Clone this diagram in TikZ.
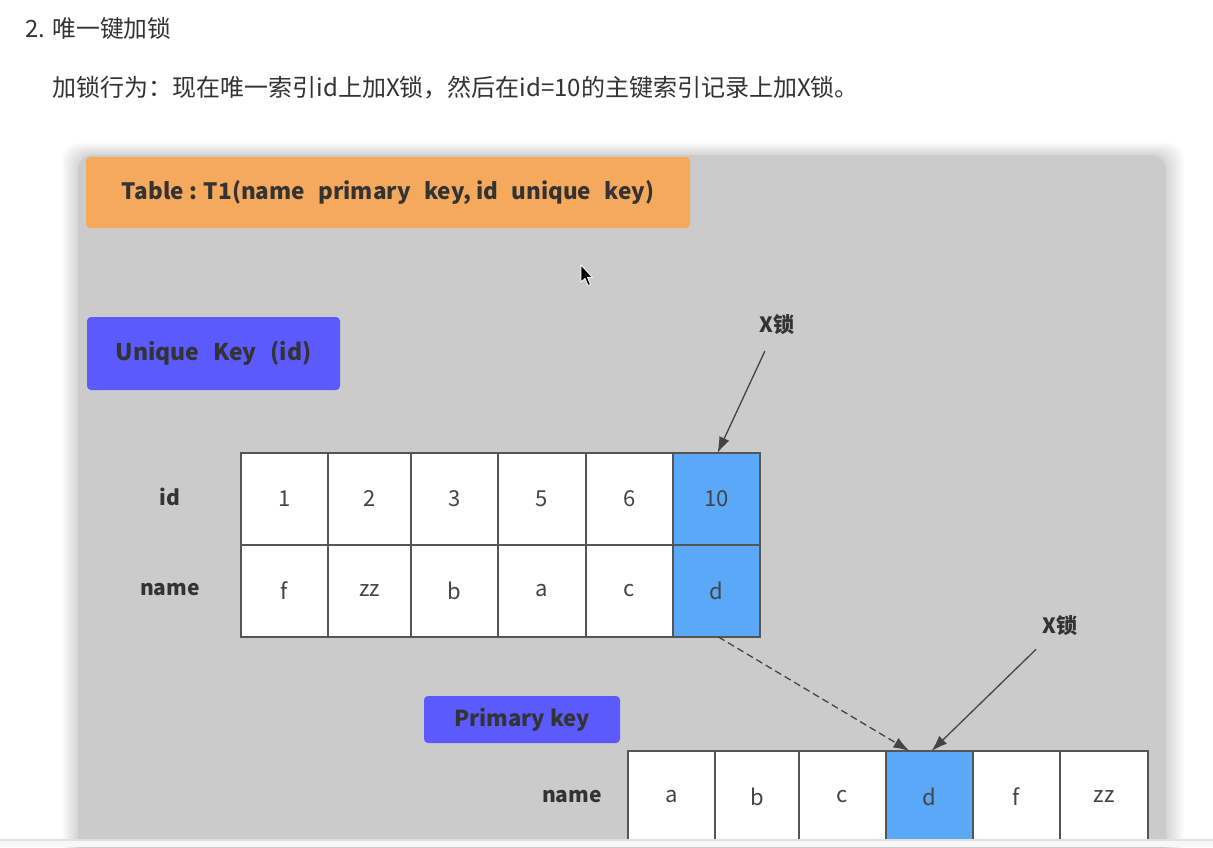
\documentclass[tikz,border=0pt]{standalone}
\usepackage{fontspec}
\setmainfont{Noto Sans CJK SC}
\usetikzlibrary{arrows.meta}
\definecolor{panel}{HTML}{CBCBCB}
\definecolor{orangebox}{HTML}{F5A95C}
\definecolor{violetbox}{HTML}{5A5AFF}
\definecolor{hl}{HTML}{5AA8F8}
\definecolor{txt}{HTML}{333333}
\definecolor{celltxt}{HTML}{444444}
\definecolor{edge}{HTML}{555555}
\definecolor{arrcol}{HTML}{444444}
\tikzset{
  cellbox/.style={draw=edge, line width=1.3pt, fill=white, inner sep=0pt, outer sep=0pt,
    minimum height=92pt, text=celltxt, font=\fontsize{22}{24}\selectfont},
  hlcell/.style={cellbox, fill=hl},
  rowlabel/.style={text=txt, font=\bfseries\fontsize{21}{24}\selectfont},
  tagbox/.style={rounded corners=4pt, inner sep=0pt, outer sep=0pt, text=txt},
  locklabel/.style={text=txt, font=\bfseries\fontsize{21}{24}\selectfont},
  arr/.style={draw=arrcol, line width=1.3pt, -{Latex[length=16pt,width=11pt]}},
}
\newcommand{\wsp}{\hspace{0.6em}}
\begin{document}
\begin{tikzpicture}[x=1pt,y=-1pt]
\useasboundingbox (0,0) rectangle (1213,847);
\fill[white] (0,0) rectangle (1213,847);
% header text
\node[anchor=west, text=txt, font=\fontsize{23.8}{26}\selectfont] (title) at (22,28) {2. 唯一键加锁};
\node[anchor=west, text=txt, font=\fontsize{24}{26}\selectfont] (desc) at (49,88) {加锁行为：现在唯一索引id上加X锁，然后在id=10的主键索引记录上加X锁。};
% panel shadow
\foreach \i in {1,...,10} {
  \fill[black, opacity=0.015, rounded corners=16pt] (78-1.6*\i,155-1.2*\i) rectangle (1166+1.8*\i,900);
}
\fill[panel, rounded corners=15pt] (78,155) rectangle (1166,900);
% tags
\node[tagbox, fill=orangebox, minimum width=604pt, minimum height=71pt,
  font=\bfseries\fontsize{22.5}{24}\selectfont] (tbl) at (388,192.5) {Table : T1(name\wsp primary\wsp key, id\wsp unique\wsp key)};
\node[tagbox, fill=violetbox, minimum width=253pt, minimum height=73pt,
  font=\bfseries\fontsize{23}{24}\selectfont] (uk) at (213.5,353.5) {Unique\wsp Key\wsp (id)};
\node[tagbox, fill=violetbox, minimum width=196pt, minimum height=47pt,
  font=\bfseries\fontsize{22}{24}\selectfont] (pk) at (522,719.5) {Primary key};
% table 1
\node[rowlabel] (lid) at (170,497) {id};
\node[rowlabel] (lname1) at (170,590) {name};
\node[cellbox, minimum width=87pt] (a1) at (284.5,499) {1};
\node[cellbox, minimum width=83pt] (a2) at (369.5,499) {2};
\node[cellbox, minimum width=87pt] (a3) at (454.5,499) {3};
\node[cellbox, minimum width=88pt] (a4) at (542,499) {5};
\node[cellbox, minimum width=87pt] (a5) at (629.5,499) {6};
\node[hlcell, minimum width=87pt] (a6) at (716.5,499) {10};
\node[cellbox, minimum width=87pt] (b1) at (284.5,591) {f};
\node[cellbox, minimum width=83pt] (b2) at (369.5,591) {zz};
\node[cellbox, minimum width=87pt] (b3) at (454.5,591) {b};
\node[cellbox, minimum width=88pt] (b4) at (542,591) {a};
\node[cellbox, minimum width=87pt] (b5) at (629.5,591) {c};
\node[hlcell, minimum width=87pt] (b6) at (716.5,591) {d};
% table 2
\node[rowlabel] (lname2) at (572,797) {name};
\node[cellbox, minimum width=87pt] (c1) at (671.5,797) {a};
\node[cellbox, minimum width=84pt] (c2) at (757,797) {b};
\node[cellbox, minimum width=87pt] (c3) at (842.5,797) {c};
\node[hlcell, minimum width=87pt] (c4) at (929.5,797) {d};
\node[cellbox, minimum width=87pt] (c5) at (1016.5,797) {f};
\node[cellbox, minimum width=88pt] (c6) at (1104,797) {zz};
% lock labels and arrows
\node[locklabel] (x1) at (777,325) {X锁};
\node[locklabel] (x2) at (1060,626) {X锁};
\draw[arr, shorten <=14pt] (x1) -- ([xshift=1pt]a6.north);
\draw[arr, shorten <=14pt] (x2) -- ([xshift=2pt]c4.north);
\draw[arr, dashed, dash pattern=on 7pt off 4pt] ([xshift=2pt]b6.south) -- ([xshift=-20pt]c4.north);
% mouse cursor
\filldraw[fill=black, draw=white, line width=0.8pt, line join=round]
  (581,265) -- (581,282) -- (585,278.5) -- (588,285.5) -- (590.5,284.5) -- (587.5,277.5) -- (592.5,277.5) -- cycle;
% bottom screen strip
\fill[white!88!black] (0,839) rectangle (1213,841);
\fill[white!97!black] (0,841) rectangle (1213,847);
\end{tikzpicture}
\end{document}
